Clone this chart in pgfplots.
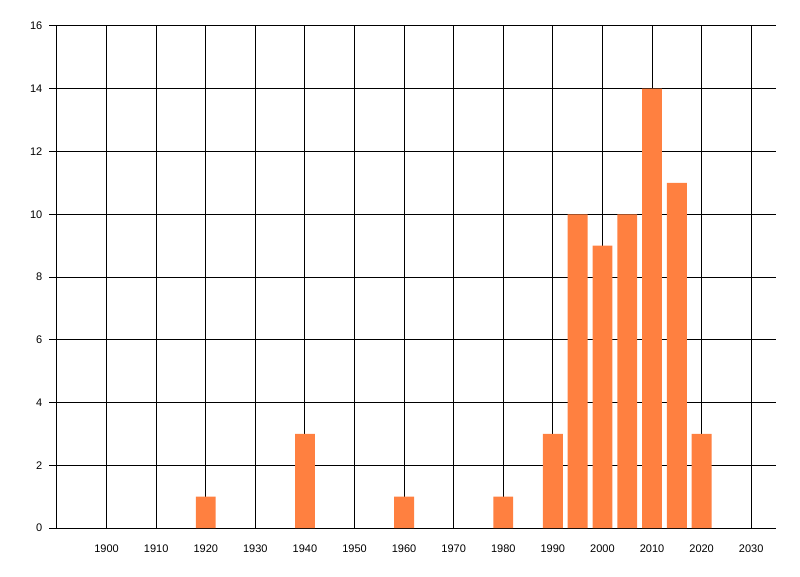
\documentclass[border=0pt]{standalone}
\usepackage{fontspec}
\setmainfont{Liberation Sans}
\usepackage{pgfplots}
\pgfplotsset{compat=1.18}
\definecolor{barorange}{RGB}{255,128,64}

\begin{document}
\begin{tikzpicture}
  % picture frame: 800x576 px at 0.75pt per px, axis box at (57,26)-(776,528)
  \useasboundingbox (-42.75pt,-36pt) rectangle (557.25pt,396pt);
  \begin{axis}[
      at={(0,0)}, anchor=south west,
      scale only axis,
      width=539.25pt, height=376.5pt,
      xmin=1890, xmax=2035,
      ymin=0, ymax=16,
      xtick={1900,1910,...,2030},
      ytick={0,2,...,16},
      axis lines*=left,
      axis line style={black, line width=0.75pt},
      grid=major,
      major grid style={black, line width=0.75pt},
      xmajorgrids, ymajorgrids,
      x tick label style={/pgf/number format/1000 sep={}, yshift=-3pt},
      y tick label style={xshift=-1.5pt},
      xtick style={draw=none},
      ytick style={black, line width=0.75pt},
      major tick length=6pt,
      tick align=outside,
      ticklabel style={font=\fontsize{8.25}{10}\selectfont},
      /pgf/number format/assume math mode=true,
      clip=false,
    ]
    \addplot[ybar, bar width=4, fill=barorange, draw=none]
      coordinates {
        (1920,1) (1940,3) (1960,1) (1980,1) (1990,3) (1995,10)
        (2000,9) (2005,10) (2010,14) (2015,11) (2020,3)
      };
  \end{axis}
\end{tikzpicture}
\end{document}
